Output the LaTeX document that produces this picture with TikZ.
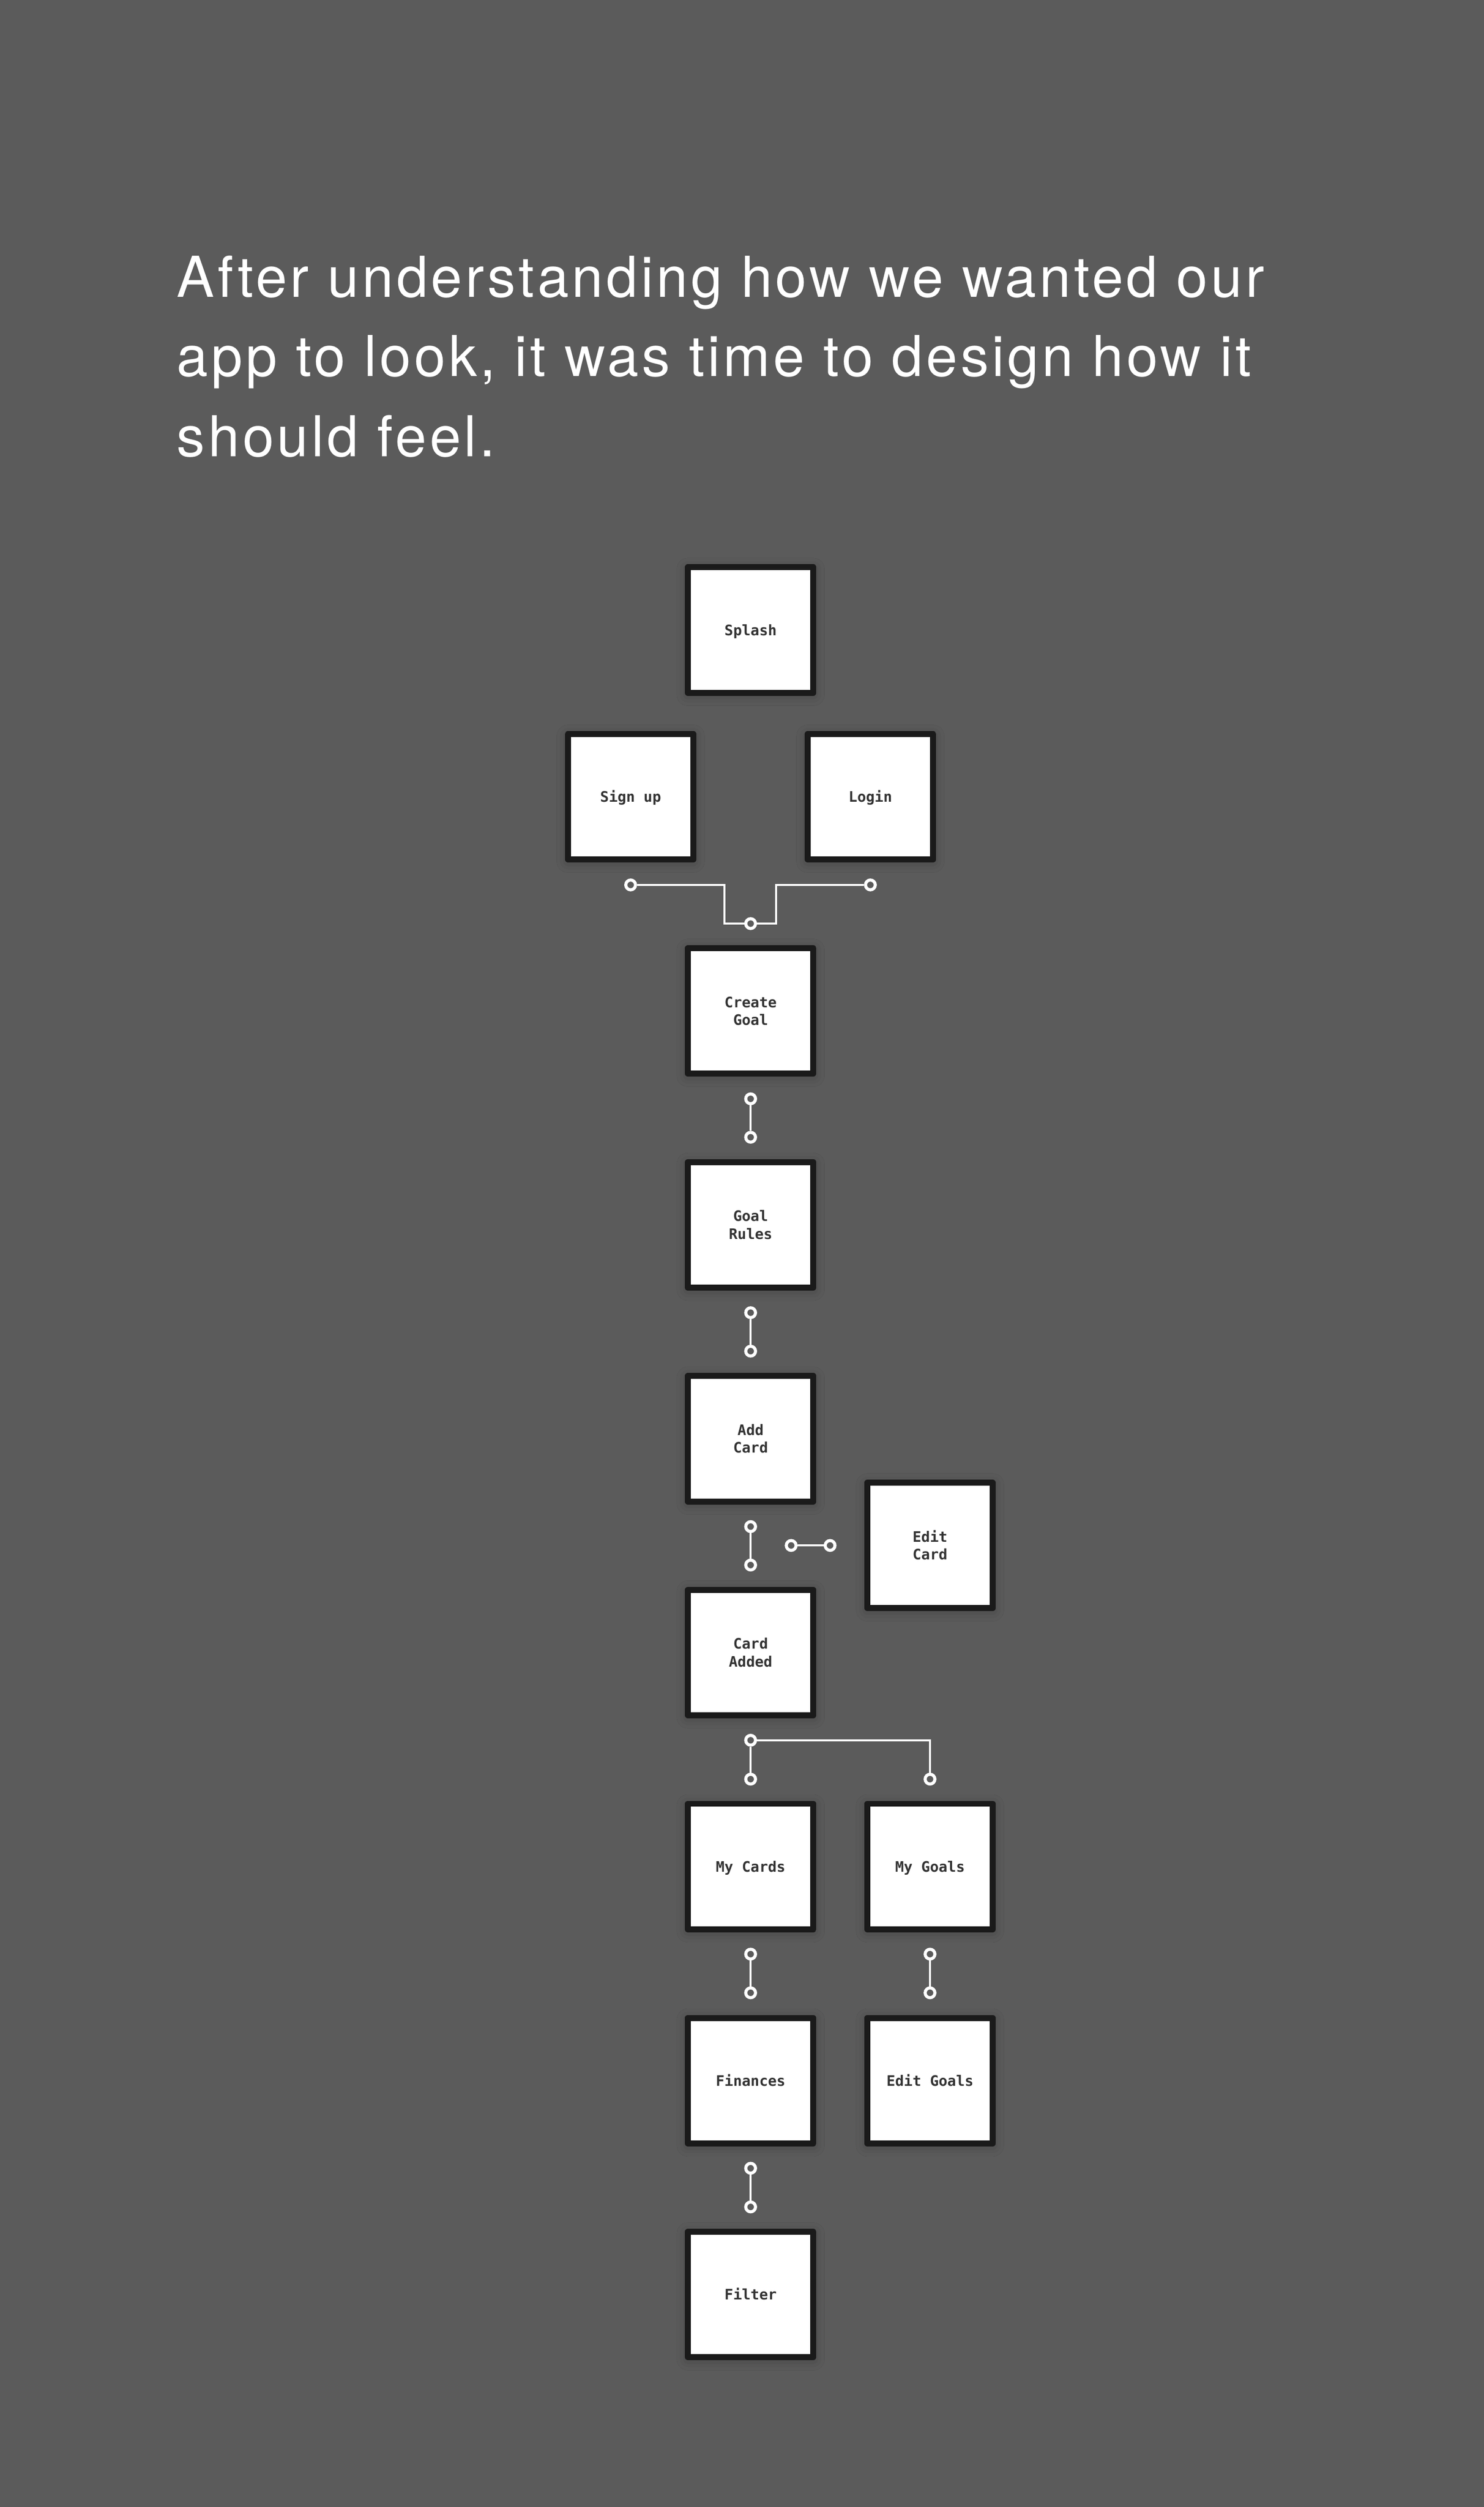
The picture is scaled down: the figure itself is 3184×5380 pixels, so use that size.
\documentclass[tikz,border=0pt]{standalone}
\usepackage{fontspec}
\usetikzlibrary{shadows.blur}
\newfontfamily\titlefont[LetterSpace=5.5]{TeX Gyre Heros}
\newfontfamily\boxfont{DejaVu Sans Mono}
\definecolor{bg}{HTML}{5B5B5B}
\definecolor{frame}{HTML}{1A1A1A}
\definecolor{label}{HTML}{333333}
\begin{document}
\begin{tikzpicture}[x=0.25pt,y=-0.25pt,
  screen/.style={draw=frame, fill=white, line width=3.2pt, line join=round,
    minimum size=67.3pt, inner sep=0pt, text=label, align=center,
    font=\boxfont\bfseries\fontsize{7.75pt}{9.5pt}\selectfont,
    text height=5.65pt, text depth=0pt,
    blur shadow={shadow xshift=0pt, shadow yshift=-1pt, shadow blur radius=6pt, shadow opacity=30}},
  screentwo/.style={screen, text height=15.15pt, text depth=0pt},
  titletext/.style={text=white, inner sep=0pt, anchor=base west,
    font=\titlefont\fontsize{30.25pt}{42.8pt}\selectfont},
  dot/.style={circle, draw=white, fill=bg, line width=1.65pt, inner sep=0pt, minimum size=5.25pt},
  wire/.style={draw=white, line width=1.075pt}
]
\useasboundingbox (0,0) rectangle (3184,5380);
\fill[bg] (-20,-20) rectangle (3204,5400);

% title
\node[titletext] (t1) at (379,637) {After understanding how we wanted our};
\node[titletext] (t2) at (379,807.5) {app to look, it was time to design how it};
\node[titletext] (t3) at (379,979.3) {should feel.};

% screens
\node[screen] (splash) at (1611,1352) {Splash};
\node[screen] (signup) at (1353.5,1710) {Sign up};
\node[screen] (login) at (1868,1710) {Login};
\node[screentwo] (create) at (1611,2169.5) {Create\\Goal};
\node[screentwo] (rules) at (1611,2628.5) {Goal\\Rules};
\node[screentwo] (addcard) at (1611,3087.5) {Add\\Card};
\node[screentwo] (editcard) at (1996,3316.5) {Edit\\Card};
\node[screentwo] (cardadded) at (1611,3546.5) {Card\\Added};
\node[screen] (mycards) at (1611,4005.5) {My Cards};
\node[screen] (mygoals) at (1996,4005.5) {My Goals};
\node[screen] (finances) at (1611,4465) {Finances};
\node[screen] (editgoals) at (1996,4465) {Edit Goals};
\node[screen] (filter) at (1611,4924) {Filter};

% sign up / login -> create goal
\node[dot] (sL) at (1353.5,1899) {};
\node[dot] (sR) at (1868,1899) {};
\coordinate (j1) at (1555,1982);
\coordinate (j2) at (1666,1982);
\draw[wire] (sL) -| (j1) -- (j2) |- (sR);
\node[dot] (sB) at (1611,1982) {};

% create -> rules
\node[dot] (a1) at (1611,2358) {};
\node[dot] (a2) at (1611,2440.5) {};
\draw[wire] (a1) -- (a2);
% rules -> add card
\node[dot] (b1) at (1611,2817) {};
\node[dot] (b2) at (1611,2899.5) {};
\draw[wire] (b1) -- (b2);
% add card -> card added
\node[dot] (c1) at (1611,3276) {};
\node[dot] (c2) at (1611,3358.5) {};
\draw[wire] (c1) -- (c2);
% -> edit card
\node[dot] (e1) at (1698,3316.5) {};
\node[dot] (e2) at (1781.5,3316.5) {};
\draw[wire] (e1) -- (e2);
% card added -> my cards / my goals
\node[dot] (bA) at (1611,3734.5) {};
\node[dot] (bL) at (1611,3818) {};
\node[dot] (bR) at (1996,3818) {};
\draw[wire] (bA) -- (bL);
\draw[wire] (bA) -| (bR);
% my cards -> finances
\node[dot] (f1) at (1611,4193.5) {};
\node[dot] (f2) at (1611,4276.5) {};
\draw[wire] (f1) -- (f2);
% my goals -> edit goals
\node[dot] (g1) at (1996,4193.5) {};
\node[dot] (g2) at (1996,4276.5) {};
\draw[wire] (g1) -- (g2);
% finances -> filter
\node[dot] (h1) at (1611,4653) {};
\node[dot] (h2) at (1611,4736) {};
\draw[wire] (h1) -- (h2);
\end{tikzpicture}
\end{document}
